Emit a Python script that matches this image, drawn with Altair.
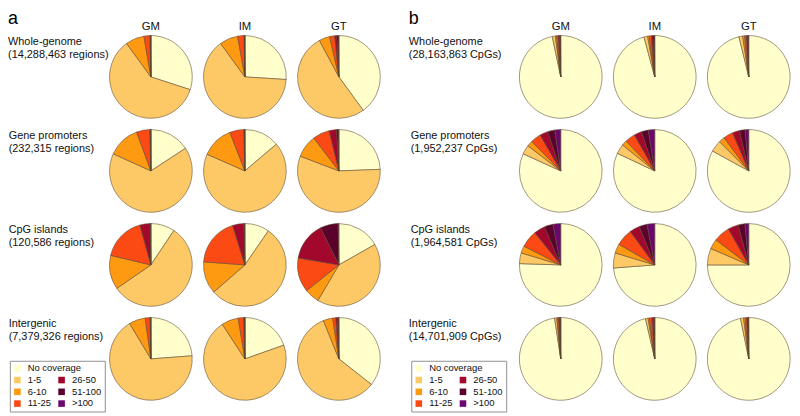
import altair as alt
import pandas as pd

categories = ["No coverage", "1-5", "6-10", "11-25", "26-50", "51-100", ">100"]
cat_colors = ["#FFFFCC", "#FDC967", "#FE9A12", "#FC4A15", "#A2082C", "#5A022C", "#6B076D"]
samples = ["GM", "IM", "GT"]

regions_a = ["Whole-genome|(14,288,463 regions)", "Gene promoters|(232,315 regions)",
             "CpG islands|(120,586 regions)", "Intergenic|(7,379,326 regions)"]
regions_b = ["Whole-genome|(28,163,863 CpGs)", "Gene promoters|(1,952,237 CpGs)",
             "CpG islands|(1,964,581 CpGs)", "Intergenic|(14,701,909 CpGs)"]

# Panel a: % of regions per coverage class (GM, IM, GT)
a_whole_GM = [30.0, 60.0, 7.3, 2.4, 0.2, 0.08, 0.02]
a_whole_IM = [26.0, 64.0, 7.2, 2.5, 0.2, 0.08, 0.02]
a_whole_GT = [40.0, 52.2, 4.2, 2.0, 0.8, 0.7, 0.1]
a_prom_GM = [15.8, 66.0, 12.6, 5.2, 0.3, 0.08, 0.02]
a_prom_IM = [13.8, 67.8, 12.5, 5.5, 0.3, 0.08, 0.02]
a_prom_GT = [24.4, 56.4, 8.8, 6.6, 2.9, 0.8, 0.1]
a_cgi_GM = [9.4, 56.0, 13.3, 17.0, 4.0, 0.25, 0.05]
a_cgi_IM = [9.6, 54.0, 12.6, 19.0, 4.4, 0.3, 0.1]
a_cgi_GT = [16.8, 41.7, 5.8, 13.4, 15.0, 7.0, 0.3]
a_inter_GM = [23.8, 67.6, 6.4, 1.9, 0.2, 0.08, 0.02]
a_inter_IM = [19.6, 71.2, 6.6, 2.1, 0.4, 0.08, 0.02]
a_inter_GT = [35.6, 58.3, 3.7, 1.2, 0.6, 0.5, 0.1]

# Panel b: % of CpGs per coverage class (GM, IM, GT)
b_whole_GM = [96.7, 1.2, 0.5, 0.6, 0.5, 0.4, 0.1]
b_whole_IM = [95.8, 1.45, 0.6, 0.85, 0.6, 0.6, 0.1]
b_whole_GT = [96.2, 1.45, 0.7, 0.7, 0.35, 0.35, 0.25]
b_prom_GM = [81.8, 3.6, 2.2, 4.1, 3.2, 2.8, 2.3]
b_prom_IM = [82.0, 3.8, 2.0, 4.0, 3.0, 2.7, 2.5]
b_prom_GT = [83.0, 4.5, 2.3, 3.8, 2.8, 2.2, 1.4]
b_cgi_GM = [75.5, 4.2, 2.8, 6.7, 4.4, 3.4, 3.0]
b_cgi_IM = [73.8, 5.9, 3.6, 6.6, 4.0, 3.1, 3.0]
b_cgi_GT = [75.0, 6.5, 3.9, 6.4, 4.1, 2.6, 1.5]
b_inter_GM = [97.6, 0.85, 0.35, 0.5, 0.35, 0.3, 0.05]
b_inter_IM = [96.4, 1.0, 0.5, 1.0, 0.6, 0.45, 0.05]
b_inter_GT = [96.8, 1.2, 0.6, 0.6, 0.35, 0.35, 0.1]

table_a = [
    [a_whole_GM, a_whole_IM, a_whole_GT],
    [a_prom_GM, a_prom_IM, a_prom_GT],
    [a_cgi_GM, a_cgi_IM, a_cgi_GT],
    [a_inter_GM, a_inter_IM, a_inter_GT],
]
table_b = [
    [b_whole_GM, b_whole_IM, b_whole_GT],
    [b_prom_GM, b_prom_IM, b_prom_GT],
    [b_cgi_GM, b_cgi_IM, b_cgi_GT],
    [b_inter_GM, b_inter_IM, b_inter_GT],
]


def make_df(regions, table):
    rows = []
    for r, reg in enumerate(regions):
        for s, smp in enumerate(samples):
            for k, cat in enumerate(categories):
                rows.append({"region": reg, "sample": smp, "cat": cat, "nc": categories[0],
                             "ord": k, "value": table[r][s][k]})
    return pd.DataFrame(rows)


df_a = make_df(regions_a, table_a)
df_b = make_df(regions_b, table_b)

FONT = "Liberation Sans"
ZW = "\u200b"
LY = 346
color_scale = alt.Scale(domain=categories, range=cat_colors)


def panel(df, regions, letter, row_pad, n_spaces, lx):
    spacer = ZW + " " * n_spaces + ZW
    legend_main = alt.Legend(
        title=ZW, titleFontSize=10, titlePadding=2.5, titleFont=FONT,
        orient="none", legendX=lx, legendY=LY, columns=2,
        values=categories[1:],
        symbolType="square", symbolSize=49, symbolStrokeWidth=0,
        labelFontSize=10, labelFont=FONT, labelColor="#111111", labelOffset=6,
        rowPadding=2.5, columnPadding=6, padding=3,
        strokeColor="#8a8a8a",
    )
    legend_nc = alt.Legend(
        title=None, orient="none", legendX=lx + 3, legendY=LY + 3,
        symbolType="square", symbolSize=49, symbolStrokeWidth=0,
        symbolFillColor=cat_colors[0],
        labelFontSize=10, labelFont=FONT, labelColor="#111111", labelOffset=6,
        padding=0,
    )
    base = alt.Chart(df).mark_arc(stroke="#5c4a32", strokeWidth=0.6).encode(
        theta=alt.Theta("value:Q", stack=True),
        color=alt.Color("cat:N", scale=color_scale, legend=legend_main),
        opacity=alt.Opacity("nc:N", scale=alt.Scale(domain=[categories[0]], range=[1, 1]),
                            legend=legend_nc),
        order=alt.Order("ord:Q"),
    ).properties(width=88, height=88)
    return base.facet(
        row=alt.Row("region:N", sort=regions, title=None,
                    header=alt.Header(labelAngle=0, labelAlign="left", labelAnchor="end",
                                      labelBaseline="line-top",
                                      labelExpr="split(datum.value + '|" + spacer + "', '|')",
                                      labelFontSize=11.6, labelLineHeight=14,
                                      labelPadding=row_pad, labelFont=FONT,
                                      labelColor="#111111")),
        column=alt.Column("sample:N", sort=samples, title=None,
                          header=alt.Header(labelFontSize=12, labelPadding=1,
                                            labelFont=FONT, labelColor="#111111")),
        spacing=8,
        title=alt.TitleParams(text=letter, anchor="start", fontSize=19, fontWeight="normal",
                              font=FONT, color="#000000", offset=-8),
    )


pa = panel(df_a, regions_a, "a", -1, 33, -106)
pb = panel(df_b, regions_b, "b", 17, 30, -115)

chart = alt.hconcat(pa, pb, spacing=28).resolve_legend(
    color="independent", opacity="independent"
).properties(
    padding={"left": 0, "top": -11, "right": 0, "bottom": 0}
).configure_view(strokeWidth=0)

chart.save("out.html", embed_options={"renderer": "svg", "actions": False})
